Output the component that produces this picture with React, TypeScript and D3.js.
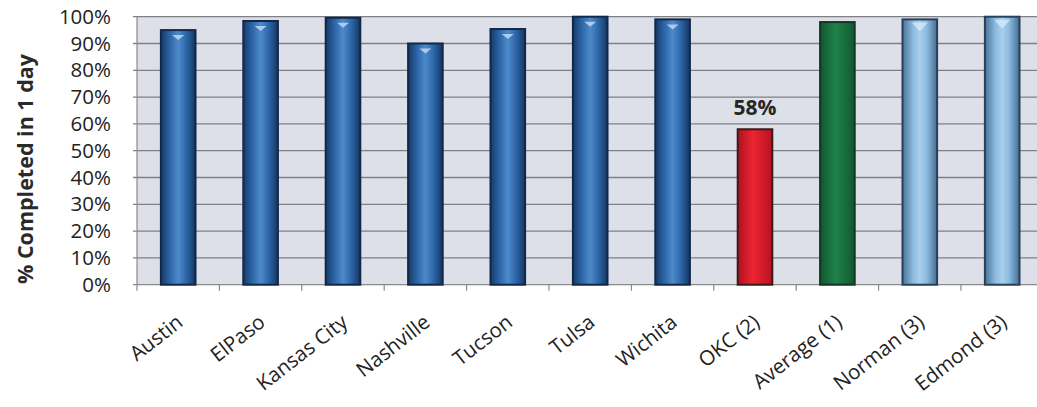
import React from "react";
import * as d3 from "d3";

// Share of requests completed within one day, per city
const cities = [
  "Austin",
  "ElPaso",
  "Kansas City",
  "Nashville",
  "Tucson",
  "Tulsa",
  "Wichita",
  "OKC (2)",
  "Average (1)",
  "Norman (3)",
  "Edmond (3)",
];
const completedPct = [95, 98.4, 99.6, 90, 95.4, 100, 99, 58, 98, 99, 100];
// fill style of each bar: peer city, OKC, average, nearby city
const barKinds = ["peer", "peer", "peer", "peer", "peer", "peer", "peer", "okc", "avg", "near", "near"];
const yTicks = [0, 10, 20, 30, 40, 50, 60, 70, 80, 90, 100];
const labelledValue = 58;

const W = 1037;
const H = 407;
const margin = { left: 137, top: 16.7, bottom: 122.3 };
const plotRight = 137 + 11 * 82.4;

const fills: Record<string, string> = {
  peer: "url(#gPeer)",
  okc: "url(#gOkc)",
  avg: "url(#gAvg)",
  near: "url(#gNear)",
};
const strokes: Record<string, string> = {
  peer: "#11284a",
  okc: "#3a1a1a",
  avg: "#143522",
  near: "#2a3f58",
};

export default function App() {
  const x = d3
    .scaleBand<string>()
    .domain(cities)
    .range([margin.left, plotRight])
    .paddingInner(0.58)
    .paddingOuter(0.29);
  const step = x.step();
  const y = d3
    .scaleLinear()
    .domain([0, 100])
    .range([H - margin.bottom, margin.top]);
  const y0 = y(0);

  const font = "'Open Sans', 'DejaVu Sans', sans-serif";

  return (
    <div style={{ position: "fixed", left: 0, top: 0 }}>
      <svg width={W} height={H} style={{ display: "block", background: "#fff" }}>
        <defs>
          <linearGradient id="gPeer" x1="0" x2="1" y1="0" y2="0">
            <stop offset="0" stopColor="#173a66" />
            <stop offset="0.25" stopColor="#2c64a6" />
            <stop offset="0.5" stopColor="#4d8acb" />
            <stop offset="0.75" stopColor="#2c64a6" />
            <stop offset="1" stopColor="#15365f" />
          </linearGradient>
          <linearGradient id="gOkc" x1="0" x2="1" y1="0" y2="0">
            <stop offset="0" stopColor="#b0101e" />
            <stop offset="0.45" stopColor="#ec2533" />
            <stop offset="1" stopColor="#b5121f" />
          </linearGradient>
          <linearGradient id="gAvg" x1="0" x2="1" y1="0" y2="0">
            <stop offset="0" stopColor="#11562f" />
            <stop offset="0.45" stopColor="#1f8249" />
            <stop offset="1" stopColor="#125831" />
          </linearGradient>
          <linearGradient id="gNear" x1="0" x2="1" y1="0" y2="0">
            <stop offset="0" stopColor="#4a7399" />
            <stop offset="0.3" stopColor="#8bbadf" />
            <stop offset="0.5" stopColor="#a9d0ee" />
            <stop offset="0.7" stopColor="#8bbadf" />
            <stop offset="1" stopColor="#456d92" />
          </linearGradient>
        </defs>

        {/* plot area */}
        <rect
          x={margin.left}
          y={margin.top}
          width={plotRight - margin.left}
          height={y0 - margin.top}
          fill="#dde0e9"
        />
        {yTicks.map((t) => (
          <line
            key={"g" + t}
            x1={margin.left - 4}
            x2={plotRight}
            y1={y(t)}
            y2={y(t)}
            stroke={t === 0 ? "#8a8a8a" : "#7f8085"}
            strokeWidth={1.3}
          />
        ))}
        <line x1={margin.left} x2={margin.left} y1={margin.top} y2={y0 + 6} stroke="#8a8a8a" strokeWidth={1.2} />
        {cities.map((c, i) => (
          <line
            key={"t" + c}
            x1={margin.left + step * (i + 1)}
            x2={margin.left + step * (i + 1)}
            y1={y0}
            y2={y0 + 6}
            stroke="#8a8a8a"
            strokeWidth={1.2}
          />
        ))}

        {/* y tick labels */}
        {yTicks.map((t) => (
          <text
            key={"l" + t}
            x={111}
            y={y(t)}
            dy="0.35em"
            textAnchor="end"
            fontFamily={font}
            fontSize={20.5}
            fill="#222"
          >
            {t}%
          </text>
        ))}

        {/* y axis title */}
        <text
          transform={`translate(33, ${169}) rotate(-90)`}
          textAnchor="middle"
          fontFamily={font}
          fontWeight="bold"
          fontSize={21.5}
          fill="#2a2a2a"
        >
          % Completed in 1 day
        </text>

        {/* bars */}
        {cities.map((c, i) => {
          const kind = barKinds[i];
          const bx = x(c)!;
          const bw = x.bandwidth();
          const top = y(completedPct[i]);
          return (
            <g key={"b" + c}>
              <rect
                x={bx}
                y={top}
                width={bw}
                height={y0 - top}
                fill={fills[kind]}
                stroke={strokes[kind]}
                strokeWidth={2}
              />
              {kind === "peer" && (
                <path
                  d={`M${bx + bw / 2 - 6},${top + 5} L${bx + bw / 2 + 6},${top + 5} L${bx + bw / 2},${top + 10} Z`}
                  fill="#b7d2ee"
                  opacity={0.9}
                />
              )}
              {kind === "near" && (
                <path
                  d={`M${bx + bw / 2 - 8},${top + 3} L${bx + bw / 2 + 8},${top + 3} L${bx + bw / 2},${top + 12} Z`}
                  fill="#d4e8f7"
                  opacity={0.8}
                />
              )}
            </g>
          );
        })}

        {/* value label on the OKC bar */}
        <text
          x={x("OKC (2)")! + x.bandwidth() / 2}
          y={y(labelledValue) - 14}
          textAnchor="middle"
          fontFamily={font}
          fontWeight="bold"
          fontSize={21}
          fill="#262626"
        >
          {labelledValue}%
        </text>

        {/* category labels */}
        {cities.map((c) => {
          const cx = x(c)! + x.bandwidth() / 2;
          return (
            <text
              key={"c" + c}
              transform={`translate(${cx + 6}, ${y0 + 40}) rotate(-38)`}
              textAnchor="end"
              fontFamily={font}
              fontSize={20.5}
              fill="#222"
            >
              {c}
            </text>
          );
        })}
      </svg>
    </div>
  );
}
